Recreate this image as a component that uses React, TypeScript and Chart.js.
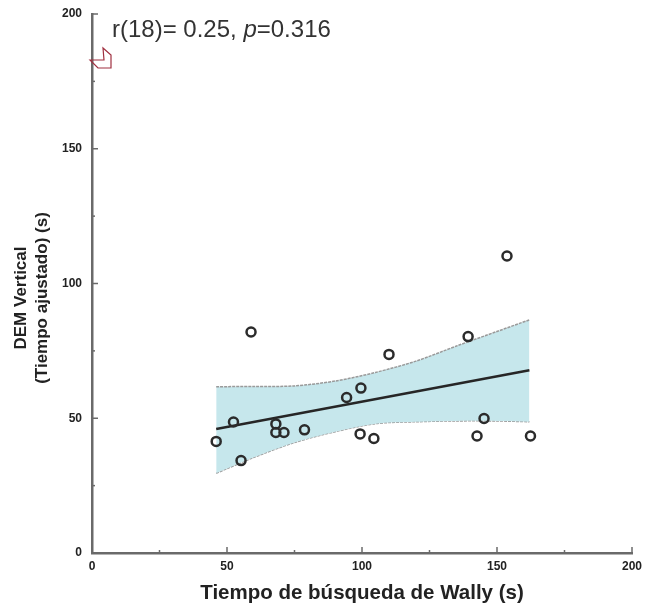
import React, { useEffect, useRef } from "react";
import { Chart, registerables } from "chart.js";

Chart.register(...registerables);

const pointX = [46, 52.4, 55.2, 58.9, 68.1, 68.1, 71.1, 78.7, 94.3, 99.6, 99.3, 104.4, 110, 139.3, 142.6, 145.2, 153.7, 162.4];
const pointY = [41.4, 48.6, 34.3, 82, 47.9, 44.7, 44.7, 45.7, 57.7, 61.2, 44.2, 42.5, 73.7, 80.3, 43.4, 49.9, 110.2, 43.4];
const fitX = [46, 162];
const fitY = [46, 67.8];
const bandX = [46, 60, 75, 90, 105, 120, 135, 150, 162];
const bandUpper = [61.7, 61.8, 62, 63.8, 67, 71.2, 76.8, 82.2, 86.5];
const bandLower = [29.6, 35.5, 41, 45, 48, 48.7, 49, 49, 48.7];
const majorTicks = [0, 50, 100, 150, 200];
const minorTicks = [25, 75, 125, 175];
const yTitleLines = ["DEM Vertical", "(Tiempo ajustado) (s)"];

const ink = "#222222";
const axisGrey = "#6a6a6a";
const labelFont = "'Liberation Sans', Arial, sans-serif";

const zip = (xs: number[], ys: number[]) => xs.map((x, i) => ({ x, y: ys[i] }));

const decorations = {
  id: "decorations",
  afterDraw(chart: any) {
    const { ctx, scales } = chart;
    const xs = scales.x;
    const ys = scales.y;
    const left = xs.left;
    const bottom = ys.bottom;
    ctx.save();
    ctx.strokeStyle = axisGrey;
    ctx.lineWidth = 1.5;
    const tick = (v: number, len: number) => {
      const px = xs.getPixelForValue(v);
      ctx.beginPath();
      ctx.moveTo(px, bottom);
      ctx.lineTo(px, bottom - len);
      ctx.stroke();
      const py = ys.getPixelForValue(v);
      ctx.beginPath();
      ctx.moveTo(left, py);
      ctx.lineTo(left + len, py);
      ctx.stroke();
    };
    majorTicks.forEach((v) => tick(v, 6));
    minorTicks.forEach((v) => tick(v, 3));

    ctx.strokeStyle = "#a03040";
    ctx.lineWidth = 1.2;
    ctx.beginPath();
    ctx.moveTo(90, 60);
    ctx.lineTo(104, 60);
    ctx.lineTo(103, 48);
    ctx.lineTo(111, 55);
    ctx.lineTo(111, 68);
    ctx.lineTo(98, 68);
    ctx.closePath();
    ctx.stroke();

    ctx.fillStyle = "#333333";
    ctx.textBaseline = "alphabetic";
    ctx.textAlign = "left";
    let cx = 112;
    const cy = 37;
    ctx.font = `24px ${labelFont}`;
    const a = "r(18)= 0.25, ";
    ctx.fillText(a, cx, cy);
    cx += ctx.measureText(a).width;
    ctx.font = `italic 24px ${labelFont}`;
    ctx.fillText("p", cx, cy);
    cx += ctx.measureText("p").width;
    ctx.font = `24px ${labelFont}`;
    ctx.fillText("=0.316", cx, cy);

    ctx.fillStyle = ink;
    ctx.textAlign = "center";
    ctx.textBaseline = "middle";
    ctx.font = `bold 17px ${labelFont}`;
    yTitleLines.forEach((line, i) => {
      ctx.save();
      ctx.translate(21 + i * 21, 298);
      ctx.rotate(-Math.PI / 2);
      ctx.fillText(line, 0, 0);
      ctx.restore();
    });
    ctx.restore();
  },
};

export default function App() {
  const ref = useRef<HTMLCanvasElement>(null);
  useEffect(() => {
    const chart = new Chart(ref.current!, {
      type: "scatter",
      data: {
        datasets: [
          {
            label: "Upper",
            type: "line",
            data: zip(bandX, bandUpper),
            borderColor: "#9a9a9a",
            borderWidth: 1.5,
            borderDash: [3, 1],
            backgroundColor: "#c6e7ec",
            pointRadius: 0,
            tension: 0.3,
            fill: "+1",
            order: 3,
          },
          {
            label: "Lower",
            type: "line",
            data: zip(bandX, bandLower),
            borderColor: "#9a9a9a",
            borderWidth: 1.5,
            borderDash: [3, 1],
            pointRadius: 0,
            tension: 0.3,
            fill: false,
            order: 3,
          },
          {
            label: "Fit",
            type: "line",
            data: zip(fitX, fitY),
            borderColor: "#262626",
            borderWidth: 2.5,
            pointRadius: 0,
            fill: false,
            order: 2,
          },
          {
            label: "Points",
            data: zip(pointX, pointY),
            borderColor: "#2b2b2b",
            backgroundColor: "rgba(255,255,255,0)",
            borderWidth: 2.5,
            pointRadius: 4.5,
            order: 1,
          },
        ],
      } as any,
      options: {
        responsive: false,
        animation: false,
        layout: { padding: { top: 14, right: 24, left: 0, bottom: 0 } },
        plugins: { legend: { display: false }, tooltip: { enabled: false } },
        scales: {
          x: {
            type: "linear",
            min: 0,
            max: 200,
            afterFit(s: any) { s.height = 57; s.paddingLeft = 0; s.paddingRight = 0; },
            grid: { display: true, drawOnChartArea: false, drawTicks: false, color: "rgba(0,0,0,0)" },
            border: { display: true, color: axisGrey, width: 2.5 },
            ticks: {
              stepSize: 50,
              padding: 6,
              maxRotation: 0,
              color: ink,
              font: { family: labelFont, size: 12, weight: "bold" },
            },
            title: {
              display: true,
              text: "Tiempo de búsqueda de Wally (s)",
              color: ink,
              font: { family: labelFont, size: 20.5, weight: "bold" },
              padding: { top: 8, bottom: 4 },
            },
          },
          y: {
            type: "linear",
            min: 0,
            max: 200,
            afterFit(s: any) { s.width = 92; s.paddingTop = 0; s.paddingBottom = 0; },
            grid: { display: true, drawOnChartArea: false, drawTicks: false, color: "rgba(0,0,0,0)" },
            border: { display: true, color: axisGrey, width: 2.5 },
            ticks: {
              stepSize: 50,
              padding: 10,
              color: ink,
              font: { family: labelFont, size: 12, weight: "bold" },
            },
          },
        },
      } as any,
      plugins: [decorations],
    });
    return () => chart.destroy();
  }, []);
  return (
    <div style={{ position: "absolute", left: 0, top: 0, width: 656, height: 610, background: "#fff" }}>
      <canvas ref={ref} width={656} height={610} style={{ display: "block", filter: "blur(0.4px)" }} />
    </div>
  );
}
